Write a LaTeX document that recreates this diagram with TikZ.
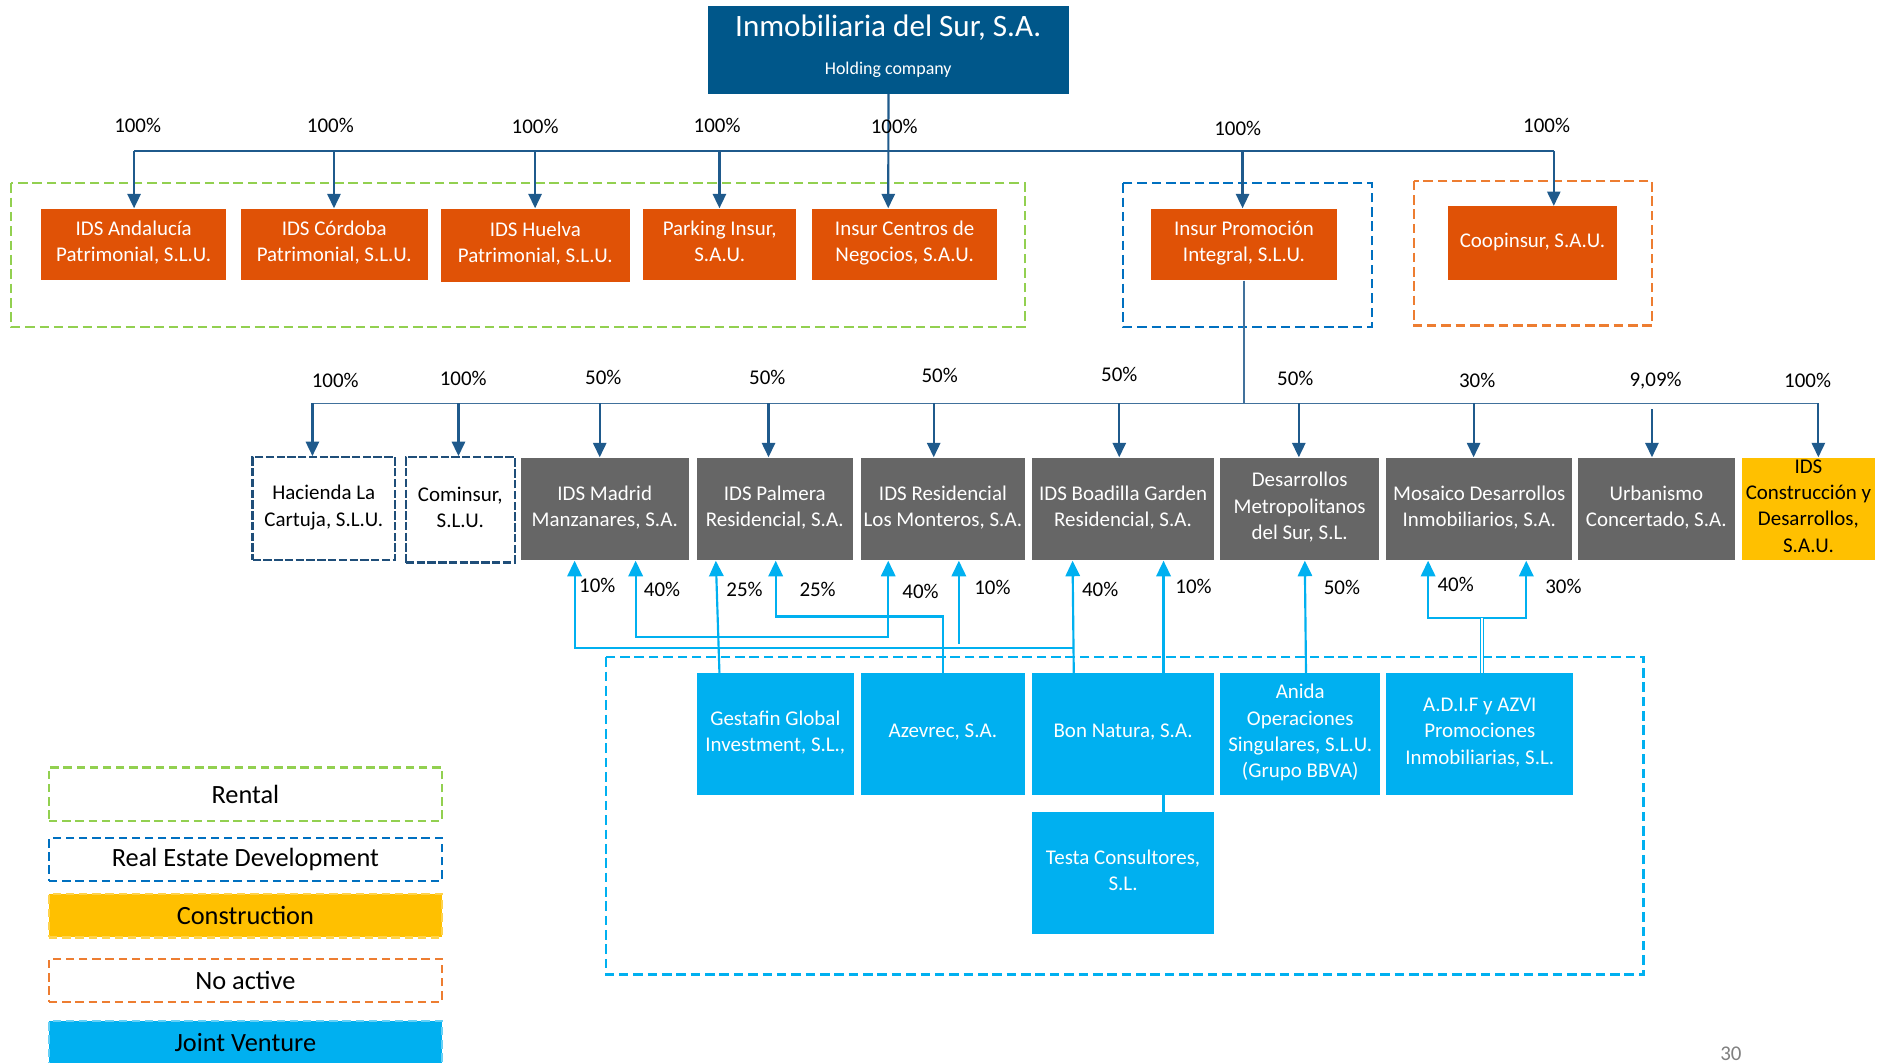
\documentclass[tikz,border=0pt]{standalone}
\usepackage{fontspec}
\setmainfont{Carlito}
\usetikzlibrary{arrows.meta}
\definecolor{cholding}{RGB}{0,87,138}
\definecolor{corange}{RGB}{224,82,6}
\definecolor{cgray}{RGB}{102,102,102}
\definecolor{cyellow}{RGB}{255,192,0}
\definecolor{cjv}{RGB}{0,176,240}
\definecolor{cgreen}{RGB}{146,208,80}
\definecolor{cblue}{RGB}{0,112,192}
\definecolor{corangedash}{RGB}{237,125,49}
\definecolor{cnavy}{RGB}{31,78,121}
\definecolor{cdb}{RGB}{31,90,140}
\definecolor{cthin}{RGB}{65,113,156}
\definecolor{cpage}{RGB}{128,128,128}
\tikzset{
  box/.style={inner sep=0pt, align=center, text=white, anchor=north west,
    font=\fontsize{17.5}{22}\selectfont, execute at end node={\rule[-5pt]{0pt}{0pt}}},
  obox/.style={box, fill=corange},
  gbox/.style={box, fill=cgray},
  jbox/.style={box, fill=cjv},
  nbox/.style={box, fill=white, text=black, draw=cnavy, line width=2pt, dash pattern=on 7pt off 2pt},
  ybox/.style={box, fill=cyellow, text=black},
  pct/.style={inner sep=0pt, font=\fontsize{17.5}{21}\selectfont},
  grp/.style={line width=2pt, dash pattern=on 8pt off 4pt},
  dbline/.style={draw=cdb, line width=1.8pt},
  dbarrow/.style={dbline, -{Triangle[length=12pt,width=11pt]}},
  thinline/.style={draw=cthin, line width=1.2pt},
  jvline/.style={draw=cjv, line width=1.8pt},
  jvarrow/.style={jvline, -{Triangle[length=13pt,width=12pt]}},
  jvboth/.style={jvline, {Triangle[length=13pt,width=12pt]}-{Triangle[length=13pt,width=12pt]}},
  legend/.style={anchor=north west, inner sep=0pt, minimum width=328pt,
    font=\fontsize{22}{26}\selectfont, line width=2pt, dash pattern=on 7pt off 4pt},
}
\begin{document}
\begin{tikzpicture}[x=1pt,y=-1pt]
\useasboundingbox (0,0) rectangle (1568,888);

% group boxes
\draw[grp, draw=cgreen] (9,153) rectangle (856,273);
\draw[grp, draw=cblue] (938,153) rectangle (1146,273);
\draw[grp, draw=corangedash] (1181,151) rectangle (1380,272);
\draw[grp, draw=cjv] (506,549) rectangle (1373,814);

% holding
\node[box, fill=cholding, minimum width=302pt, minimum height=73pt] (holding) at (591,5) {};
\node[text=white, inner sep=0pt, font=\fontsize{26}{30}\selectfont] (holdingtitle) at (742,23) {Inmobiliaria del Sur, S.A.};
\node[text=white, inner sep=0pt, font=\fontsize{15}{18}\selectfont] (holdingsub) at (742,58) {Holding company};

% first level
\node[obox, minimum width=155pt, minimum height=60pt] (andalucia) at (34,174) {IDS Andalucía\\Patrimonial, S.L.U.};
\node[obox, minimum width=156pt, minimum height=60pt] (cordoba) at (201,174) {IDS Córdoba\\Patrimonial, S.L.U.};
\node[obox, minimum width=158pt, minimum height=61pt] (huelva) at (368,174) {IDS Huelva\\Patrimonial, S.L.U.};
\node[obox, minimum width=128pt, minimum height=60pt] (parking) at (537,174) {Parking Insur,\\S.A.U.};
\node[obox, minimum width=155pt, minimum height=60pt] (centros) at (678,174) {Insur Centros de\\Negocios, S.A.U.};
\node[obox, minimum width=156pt, minimum height=60pt] (promocion) at (961,174) {Insur Promoción\\Integral, S.L.U.};
\node[obox, minimum width=142pt, minimum height=62pt] (coopinsur) at (1209,172) {Coopinsur, S.A.U.};

% second level
\node[nbox, minimum width=119pt, minimum height=86pt] (hacienda) at (210,381) {Hacienda La\\Cartuja, S.L.U.};
\node[nbox, minimum width=91pt, minimum height=88pt] (cominsur) at (338,381) {Cominsur,\\S.L.U.};
\node[gbox, minimum width=140pt, minimum height=86pt] (madrid) at (435,382) {IDS Madrid\\Manzanares, S.A.};
\node[gbox, minimum width=130pt, minimum height=86pt] (palmera) at (582,382) {IDS Palmera\\Residencial, S.A.};
\node[gbox, minimum width=137pt, minimum height=86pt] (resid) at (719,382) {IDS Residencial\\Los Monteros, S.A.};
\node[gbox, minimum width=152pt, minimum height=86pt] (boadilla) at (862,382) {IDS Boadilla Garden\\Residencial, S.A.};
\node[gbox, minimum width=133pt, minimum height=86pt] (desarrollos) at (1019,382) {Desarrollos\\Metropolitanos\\del Sur, S.L.};
\node[gbox, minimum width=155pt, minimum height=86pt] (mosaico) at (1158,382) {Mosaico Desarrollos\\Inmobiliarios, S.A.};
\node[gbox, minimum width=131pt, minimum height=86pt] (urbanismo) at (1318,382) {Urbanismo\\Concertado, S.A.};
\node[ybox, minimum width=111pt, minimum height=86pt] (construccion) at (1455,382) {IDS\\Construcción y\\Desarrollos,\\S.A.U.};

% joint venture partners
\node[jbox, minimum width=131pt, minimum height=102pt] (gestafin) at (582,562) {Gestafin Global\\Investment, S.L.,};
\node[jbox, minimum width=137pt, minimum height=102pt] (azevrec) at (719,562) {Azevrec, S.A.};
\node[jbox, minimum width=152pt, minimum height=102pt] (bonnatura) at (862,562) {Bon Natura, S.A.};
\node[jbox, minimum width=134pt, minimum height=102pt] (anida) at (1019,562) {Anida\\Operaciones\\Singulares, S.L.U.\\(Grupo BBVA)};
\node[jbox, minimum width=156pt, minimum height=102pt] (adif) at (1158,562) {A.D.I.F y AZVI\\Promociones\\Inmobiliarias, S.L.};
\node[jbox, minimum width=152pt, minimum height=102pt] (testa) at (862,678) {Testa Consultores,\\S.L.};

% first level connectors
\coordinate (busL) at (112,126);
\coordinate (busR) at (1298,126);
\draw[dbline] (busL) -- (busR);
\draw[dbarrow] (holding.south) -- (742,0 |- centros.north);
\draw[dbarrow] (busL) -- (112,0 |- andalucia.north);
\draw[dbarrow] (279,126) -- (279,0 |- cordoba.north);
\draw[dbarrow] (447,126) -- (447,0 |- huelva.north);
\draw[dbarrow] (601,126) -- (601,0 |- parking.north);
\draw[dbarrow] (1038,126) -- (1038,0 |- promocion.north);
\draw[dbarrow] (busR) -- (1298,0 |- coopinsur.north);

% second level connectors
\coordinate (bus2L) at (261,337);
\coordinate (bus2R) at (1519,337);
\draw[thinline] (promocion.south) -- (promocion.south |- bus2L);
\draw[thinline] (bus2L) -- (bus2R);
\draw[dbarrow] (bus2L) -- (261,0 |- hacienda.north);
\draw[dbarrow] (383,337) -- (383,0 |- cominsur.north);
\draw[dbarrow] (501,337) -- (501,0 |- madrid.north);
\draw[dbarrow] (642,337) -- (642,0 |- palmera.north);
\draw[dbarrow] (780,337) -- (780,0 |- resid.north);
\draw[dbarrow] (935,337) -- (935,0 |- boadilla.north);
\draw[dbarrow] (1085,337) -- (1085,0 |- desarrollos.north);
\draw[dbarrow] (1231,337) -- (1231,0 |- mosaico.north);
\draw[dbarrow] (1380,342) -- (1380,0 |- urbanismo.north);
\draw[dbarrow] (bus2R) -- (1519,0 |- construccion.north);

% joint venture connectors
\draw[jvarrow] (601,0 |- gestafin.north) -- (598,0 |- palmera.south);
\draw[jvarrow] (788,0 |- azevrec.north) -- (788,515) -- (648,515) -- (648,0 |- palmera.south);
\draw[jvboth] (531,0 |- madrid.south) -- (531,532) -- (742,532) -- (742,0 |- resid.south);
\coordinate (floatR) at (801,538);
\draw[jvarrow] (floatR) -- (801,0 |- resid.south);
\draw[jvarrow] (897,0 |- bonnatura.north) -- (896,0 |- boadilla.south);
\draw[jvarrow] (897,541) -- (480,541) -- (480,0 |- madrid.south);
\draw[jvarrow] (972,0 |- bonnatura.north) -- (972,0 |- boadilla.south);
\draw[jvline] (972,0 |- bonnatura.south) -- (972,0 |- testa.north);
\draw[jvarrow] (1091,0 |- anida.north) -- (1090,0 |- desarrollos.south);
\draw[jvboth] (1193,0 |- mosaico.south) -- (1193,516) -- (1275,516) -- (1275,0 |- mosaico.south);
\draw[draw=cjv, line width=1.2pt, double=white, double distance=1.6pt] (1238,516) -- (1238,0 |- adif.north);

% percentages, first level
\node[pct] (p1) at (115,105) {100\%};
\node[pct] (p2) at (276,105) {100\%};
\node[pct] (p3) at (447,106) {100\%};
\node[pct] (p4) at (599,105) {100\%};
\node[pct] (p5) at (747,106) {100\%};
\node[pct] (p6) at (1034,107) {100\%};
\node[pct] (p7) at (1292,105) {100\%};

% percentages, second level
\node[pct] (q1) at (280,318) {100\%};
\node[pct] (q2) at (387,316) {100\%};
\node[pct] (q3) at (504,315) {50\%};
\node[pct] (q4) at (641,315) {50\%};
\node[pct] (q5) at (785,314) {50\%};
\node[pct] (q6) at (935,313) {50\%};
\node[pct] (q7) at (1082,316) {50\%};
\node[pct] (q8) at (1234,318) {30\%};
\node[pct] (q9) at (1383,318) {9,09\%};
\node[pct] (q10) at (1510,318) {100\%};

% percentages, joint ventures
\node[pct] (r1) at (499,489) {10\%};
\node[pct] (r2) at (553,492) {40\%};
\node[pct] (r3) at (622,492) {25\%};
\node[pct] (r4) at (683,492) {25\%};
\node[pct] (r5) at (769,494) {40\%};
\node[pct] (r6) at (829,491) {10\%};
\node[pct] (r7) at (919,492) {40\%};
\node[pct] (r8) at (997,490) {10\%};
\node[pct] (r9) at (1121,491) {50\%};
\node[pct] (r10) at (1216,488) {40\%};
\node[pct] (r11) at (1306,490) {30\%};

% legend
\node[legend, draw=cgreen, minimum height=45pt] (lrental) at (40,640) {Rental};
\node[legend, draw=cblue, minimum height=36pt] (lred) at (40,699) {Real Estate Development};
\node[legend, draw=cyellow!70, fill=cyellow, minimum height=36pt] (lcons) at (40,746) {Construction};
\node[legend, draw=corangedash, minimum height=36pt] (lnoact) at (40,800) {No active};
\node[legend, draw=cjv!60, fill=cjv, minimum height=36pt] (ljv) at (40,852) {Joint Venture};

% page number
\node[inner sep=0pt, text=cpage, font=\fontsize{17.5}{20}\selectfont] (pagenum) at (1446,880) {30};
\end{tikzpicture}
\end{document}
